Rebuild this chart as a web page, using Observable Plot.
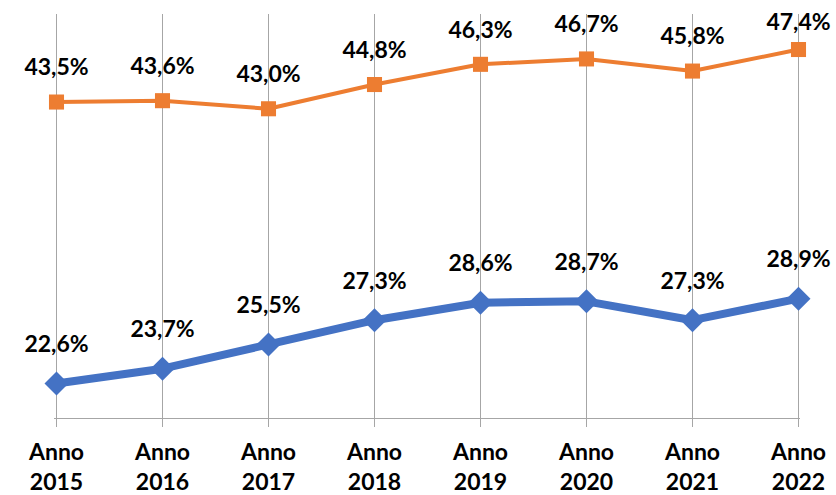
<!DOCTYPE html>
<html>
<head>
<meta charset="utf-8">
<script src="https://cdn.jsdelivr.net/npm/d3@7"></script>
<script src="https://cdn.jsdelivr.net/npm/@observablehq/plot@0.6"></script>
<style>
  html, body { margin: 0; padding: 0; background: #fff; }
</style>
</head>
<body>
<div id="chart"></div>
<script>
const years = [2015, 2016, 2017, 2018, 2019, 2020, 2021, 2022];
const orangeValues = [43.5, 43.6, 43.0, 44.8, 46.3, 46.7, 45.8, 47.4];
const blueValues = [22.6, 23.7, 25.5, 27.3, 28.6, 28.7, 27.3, 28.9];
const yDomain = [20, 50];

const orange = years.map((y, i) => ({year: y, value: orangeValues[i]}));
const blue = years.map((y, i) => ({year: y, value: blueValues[i]}));
const fmt = d => d.value.toFixed(1).replace(".", ",") + "%";
const topLimit = 47;

const gray = "#a6a6a6";
const font = "Lato, 'Open Sans', sans-serif";

const chart = Plot.plot({
  width: 836,
  height: 495,
  marginTop: 14,
  marginBottom: 77,
  marginLeft: 54,
  marginRight: 36,
  style: {fontFamily: font, background: "#fff", color: "#000"},
  x: {type: "point", domain: years, padding: 0, label: null},
  y: {domain: yDomain, axis: null},
  marks: [
    Plot.gridX(years, {stroke: gray, strokeOpacity: 1, strokeWidth: 1}),
    Plot.ruleY([yDomain[0]], {stroke: gray, strokeWidth: 1}),
    Plot.axisX({
      tickSize: 9,
      stroke: gray,
      tickPadding: 12,
      fontSize: 23,
      fontWeight: "bold",
      fill: "#000",
      lineHeight: 1.28,
      label: null,
      tickFormat: y => "Anno\n" + y
    }),
    Plot.line(orange, {x: "year", y: "value", stroke: "#ED7D31", strokeWidth: 4}),
    Plot.dot(orange, {x: "year", y: "value", symbol: "square", r: 8.5, fill: "#ED7D31", stroke: "none"}),
    Plot.line(blue, {x: "year", y: "value", stroke: "#4472C4", strokeWidth: 8}),
    Plot.dot(blue, {x: "year", y: "value", symbol: "diamond2", r: 10.8, fill: "#4472C4", stroke: "none"}),
    Plot.text(orange.filter(d => d.value < topLimit), {x: "year", y: "value", text: fmt, dy: -34, fontSize: 23, fontWeight: "bold", fill: "#000"}),
    Plot.text(orange.filter(d => d.value >= topLimit), {x: "year", y: "value", text: fmt, dy: -26.5, fontSize: 23, fontWeight: "bold", fill: "#000"}),
    Plot.text(blue, {x: "year", y: "value", text: fmt, dy: -39, fontSize: 23, fontWeight: "bold", fill: "#000"})
  ]
});
document.getElementById("chart").appendChild(chart);
</script>
</body>
</html>
